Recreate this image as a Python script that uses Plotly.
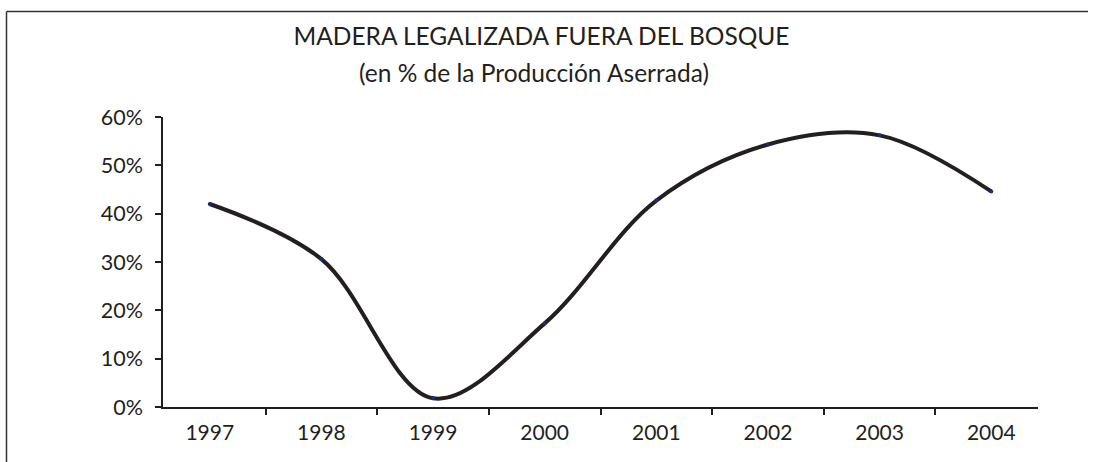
import plotly.graph_objects as go

years = ["1997", "1998", "1999", "2000", "2001", "2002", "2003", "2004"]
share = [0.420, 0.306, 0.018, 0.173, 0.427, 0.543, 0.562, 0.446]
y_ticks = [0, 0.1, 0.2, 0.3, 0.4, 0.5, 0.6]
y_tick_labels = ["0%", "10%", "20%", "30%", "40%", "50%", "60%"]

title_main = "MADERA LEGALIZADA FUERA DEL BOSQUE"
title_sub = "(en % de la Producción Aserrada)"

FONT = "Lato, 'Open Sans', sans-serif"
INK = "#231f20"

W, H = 1093, 462
L, R, T, B = 163, 55, 117, 55
pw, ph = W - L - R, H - T - B

def px_x(x):
    return (x - L) / pw

def px_y(y):
    return (H - B - y) / ph

fig = go.Figure()
fig.add_trace(go.Scatter(
    x=years, y=share, mode="lines+markers",
    line=dict(color=INK, width=4, shape="spline", smoothing=1.0),
    marker=dict(color="#1f2a7a", size=4),
    showlegend=False, hoverinfo="x+y",
))

frame = dict(color="#333333", width=1.5)

fig.update_layout(
    width=W, height=H,
    margin=dict(l=L, r=R, t=T, b=B),
    paper_bgcolor="white", plot_bgcolor="white",
    font=dict(family=FONT, color=INK, size=21),
    title=dict(text=title_main, x=541.5 / W, xanchor="center",
               xref="container", y=1 - 36.5 / H, yanchor="middle", yref="container",
               font=dict(family=FONT, size=24.5, color=INK)),
    xaxis=dict(type="category", showline=True, linecolor=INK, linewidth=1.5,
               ticks="outside", tickson="boundaries", ticklen=6, tickcolor=INK,
               tickwidth=1.5, showgrid=False, zeroline=False, ticklabelstandoff=6,
               tickfont=dict(family=FONT, size=21, color=INK)),
    yaxis=dict(range=[0, 0.6], tickvals=y_ticks, ticktext=y_tick_labels,
               showline=True, linecolor=INK, linewidth=1.5,
               ticks="outside", ticklen=6, tickcolor=INK, tickwidth=1.5,
               showgrid=False, zeroline=False, ticklabelstandoff=8,
               tickfont=dict(family=FONT, size=21.5, color=INK)),
    annotations=[dict(text=title_sub, xref="paper", yref="paper",
                      x=px_x(534), y=px_y(73), xanchor="center", yanchor="middle",
                      showarrow=False, font=dict(family=FONT, size=24.5, color=INK))],
    shapes=[
        dict(type="line", xref="paper", yref="paper",
             x0=px_x(6.5), x1=px_x(1088), y0=px_y(11.5), y1=px_y(11.5),
             line=frame, layer="below"),
        dict(type="line", xref="paper", yref="paper",
             x0=px_x(6.5), x1=px_x(6.5), y0=px_y(11.5), y1=px_y(H + 20),
             line=frame, layer="below"),
    ],
)

fig.write_html("out.html", config={"displayModeBar": False},
               post_script="document.documentElement.style.overflow='hidden';document.body.style.margin='0';document.body.style.overflow='hidden';")
